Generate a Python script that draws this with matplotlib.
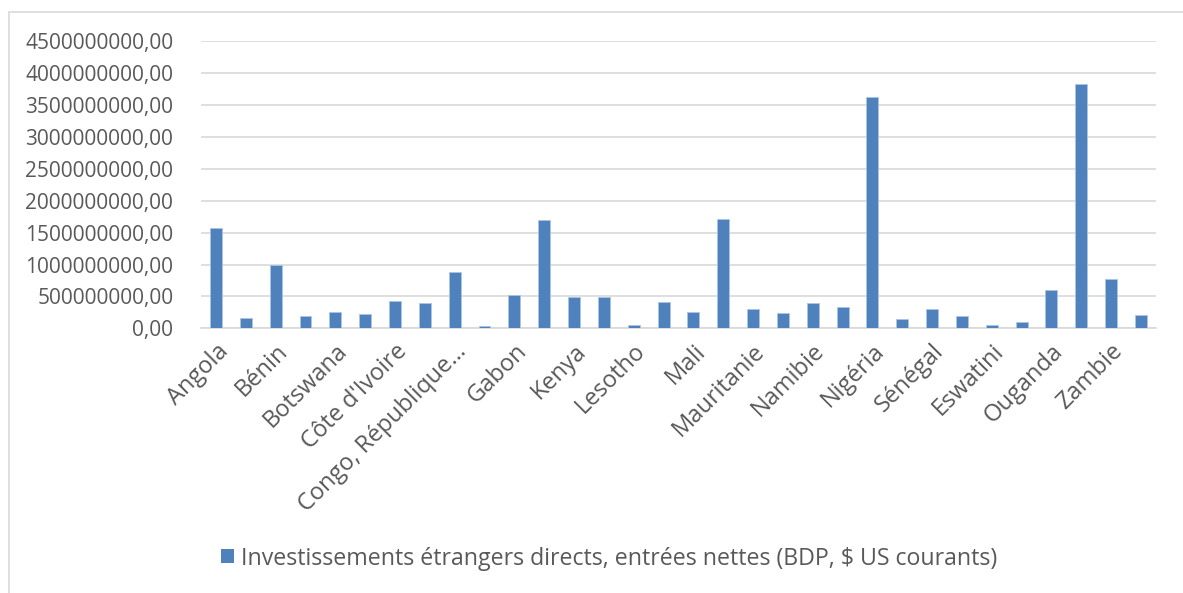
import matplotlib
matplotlib.use("Agg")
import matplotlib.pyplot as plt
from matplotlib.patches import Rectangle, Patch
from matplotlib.ticker import FuncFormatter, MultipleLocator

countries = [
    "Angola", "Burkina Faso", "Bénin", "Burundi", "Botswana", "Cameroun",
    "Côte d'Ivoire", "Cabo Verde", "Congo, République…", "Comores", "Gabon",
    "Ghana", "Kenya", "Libéria", "Lesotho", "Madagascar", "Mali", "Mozambique",
    "Mauritanie", "Maurice", "Namibie", "Niger", "Nigéria", "Rwanda", "Sénégal",
    "Seychelles", "Eswatini", "Tchad", "Ouganda", "Tanzanie", "Zambie", "Zimbabwe",
]
fdi_inflows = [
    1567e6, 157e6, 998e6, 188e6, 256e6, 230e6, 423e6, 402e6, 883e6, 37e6,
    517e6, 1698e6, 496e6, 491e6, 47e6, 413e6, 261e6, 1714e6, 298e6, 240e6,
    397e6, 329e6, 3626e6, 152e6, 303e6, 193e6, 52e6, 94e6, 601e6, 3835e6,
    768e6, 204e6,
]
series_name = "Investissements étrangers directs, entrées nettes (BDP, $ US courants)"

plt.rcParams['font.family'] = ['Open Sans', 'DejaVu Sans']
text_color = '#595959'
bar_color = '#4F81BD'

fig = plt.figure(figsize=(11.83, 5.93), dpi=100)
ax = fig.add_axes([0.170, 0.4464, 0.807, 0.484])

x = range(len(countries))
ax.bar(x, fdi_inflows, width=0.4, color=bar_color, edgecolor='#A9C4E6', linewidth=0.6, zorder=3)

ax.set_xlim(-0.5, len(countries) - 0.5)
ax.set_ylim(0, 4.5e9)
ax.yaxis.set_major_locator(MultipleLocator(5e8))
ax.yaxis.set_major_formatter(FuncFormatter(lambda v, p: f"{v:.2f}".replace('.', ',')))
ax.grid(axis='y', color='#D9D9D9', linewidth=1.2, zorder=0)

ax.set_xticks(list(x)[::2])
ax.set_xticklabels(countries[::2], rotation=45, ha='right', rotation_mode='anchor',
                   fontsize=17, color=text_color)
ax.tick_params(axis='y', labelsize=15, labelcolor=text_color, length=0, pad=20)
ax.tick_params(axis='x', length=0, pad=8)

for side in ['top', 'right', 'left']:
    ax.spines[side].set_visible(False)
ax.spines['bottom'].set_color('#D9D9D9')
ax.spines['bottom'].set_linewidth(1.2)

handle = Patch(facecolor=bar_color, edgecolor='none')
fig.legend([handle], [series_name], loc='center', bbox_to_anchor=(0.515, 0.058),
           frameon=False, fontsize=16.7, labelcolor=text_color,
           handlelength=0.55, handleheight=0.55, handletextpad=0.3)

fig.patches.append(Rectangle((8.5 / 1183, -0.1), 1.2, 1.1 - 12.5 / 593,
                             transform=fig.transFigure, fill=False,
                             edgecolor='#D9D9D9', linewidth=1.2))

fig.savefig('out.png', dpi=100, facecolor='white')
